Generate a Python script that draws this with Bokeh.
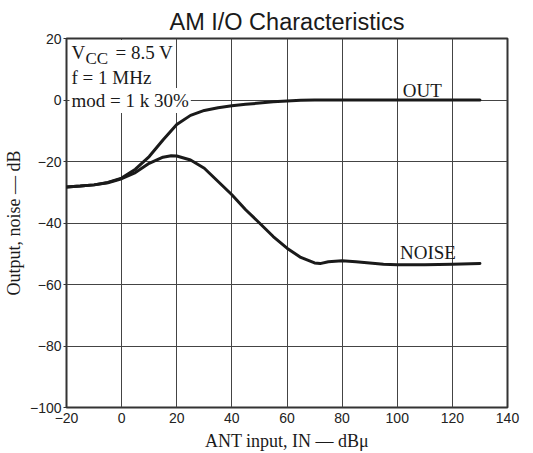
from bokeh.plotting import figure
from bokeh.models import Label, FixedTicker, Range1d
from bokeh.embed import file_html
from bokeh.resources import INLINE

# ---- data ----
title_text = "AM I/O Characteristics"
x_label = "ANT input, IN — dBμ"
y_label = "Output, noise — dB"

x_ticks = [-20, 0, 20, 40, 60, 80, 100, 120, 140]
y_ticks = [-100, -80, -60, -40, -20, 0, 20]

out_x = [-20, -15, -10, -5, 0, 5, 10, 15, 20, 25, 30, 35, 40, 45, 50, 55, 60, 65, 70, 80, 90, 100, 110, 120, 130]
out_y = [-28.3, -28.0, -27.6, -26.8, -25.4, -22.5, -18.4, -13.0, -8.0, -5.0, -3.4, -2.5, -1.9, -1.4, -1.0, -0.6, -0.3, -0.1, 0.0, 0.0, 0.0, 0.0, 0.0, 0.0, 0.0]

noise_x = [-20, -15, -10, -5, 0, 5, 10, 15, 18, 20, 25, 30, 35, 40, 45, 50, 55, 60, 65, 70, 72, 75, 80, 85, 90, 95, 100, 110, 120, 130]
noise_y = [-28.3, -28.0, -27.6, -26.9, -25.6, -23.6, -20.6, -18.6, -18.1, -18.2, -19.5, -22.2, -26.5, -30.8, -35.7, -40.0, -44.4, -48.2, -51.2, -53.0, -53.2, -52.6, -52.3, -52.6, -53.0, -53.4, -53.6, -53.6, -53.4, -53.2]

SANS = "Liberation Sans"
SERIF = "Liberation Serif"
INK = "#1a1a1a"
GRID = "#444444"

p = figure(width=533, height=453,
           x_range=Range1d(x_ticks[0], x_ticks[-1]),
           y_range=Range1d(y_ticks[0], y_ticks[-1]),
           output_backend="svg", toolbar_location=None,
           min_border_left=63, min_border_right=26,
           min_border_top=38, min_border_bottom=45,
           title=title_text)

p.title.text_font = SANS
p.title.text_font_size = "23.5px"
p.title.text_font_style = "normal"
p.title.align = "center"
p.title.text_color = INK
p.title.standoff = 8
p.title.vertical_align = "bottom"

p.background_fill_color = "white"
p.border_fill_color = "white"
p.outline_line_color = "#333333"
p.outline_line_width = 2

for ax in (p.xaxis[0], p.yaxis[0]):
    ax.axis_line_color = None
    ax.minor_tick_line_color = None
    ax.major_label_text_font = SANS
    ax.major_label_text_font_size = "14px"
    ax.major_label_text_color = "#222222"
    ax.axis_label_text_font = SERIF
    ax.axis_label_text_font_size = "18px"
    ax.axis_label_text_font_style = "normal"
    ax.axis_label_text_color = INK

p.xaxis[0].ticker = FixedTicker(ticks=x_ticks)
p.yaxis[0].ticker = FixedTicker(ticks=y_ticks)
p.xaxis[0].major_label_overrides = {t: str(t).replace("-", "\u2212") for t in x_ticks}
p.yaxis[0].major_label_overrides = {t: str(t).replace("-", "\u2212") for t in y_ticks}
p.xaxis[0].major_tick_out = 0
p.xaxis[0].major_tick_in = 0
p.xaxis[0].major_label_standoff = 5
p.xaxis[0].axis_label_standoff = 5
p.yaxis[0].major_tick_out = 3
p.yaxis[0].major_tick_in = 0
p.yaxis[0].major_tick_line_color = "#333333"
p.yaxis[0].major_label_standoff = 2
p.yaxis[0].axis_label_standoff = 3
p.xaxis[0].axis_label = x_label
p.yaxis[0].axis_label = y_label

p.xgrid[0].ticker = FixedTicker(ticks=x_ticks)
p.ygrid[0].ticker = FixedTicker(ticks=y_ticks)
for g in (p.xgrid[0], p.ygrid[0]):
    g.grid_line_color = GRID
    g.grid_line_width = 1
    g.grid_line_alpha = 1.0

p.line(out_x, out_y, line_color=INK, line_width=3, line_join="round", line_cap="round")
p.line(noise_x, noise_y, line_color=INK, line_width=3, line_join="round", line_cap="round")

# condition notes, anchored at top-left corner of the plot area
x0, y0 = x_ticks[0], y_ticks[-1]
def note(text, dx, dy, size="19px"):
    p.add_layout(Label(x=x0, y=y0, x_offset=dx, y_offset=dy, text=text,
                       text_font=SERIF, text_font_size=size, text_color=INK,
                       text_baseline="alphabetic", text_align="left",
                       background_fill_color="white", padding=2))

note("f = 1 MHz", 3, -39)
note("mod = 1 k 30%", 3, -62)
note("V", 3, -14)
note("= 8.5 V", 47, -14)
note("CC", 17, -20, size="17px")

for txt, lx, ly in [("OUT", 102.0, 3.2), ("NOISE", 101.0, -49.6)]:
    p.add_layout(Label(x=lx, y=ly, text=txt, text_font=SERIF, text_font_size="19px",
                       text_color=INK, text_baseline="alphabetic", text_align="left"))

open("out.html", "w").write(file_html(p, INLINE))
